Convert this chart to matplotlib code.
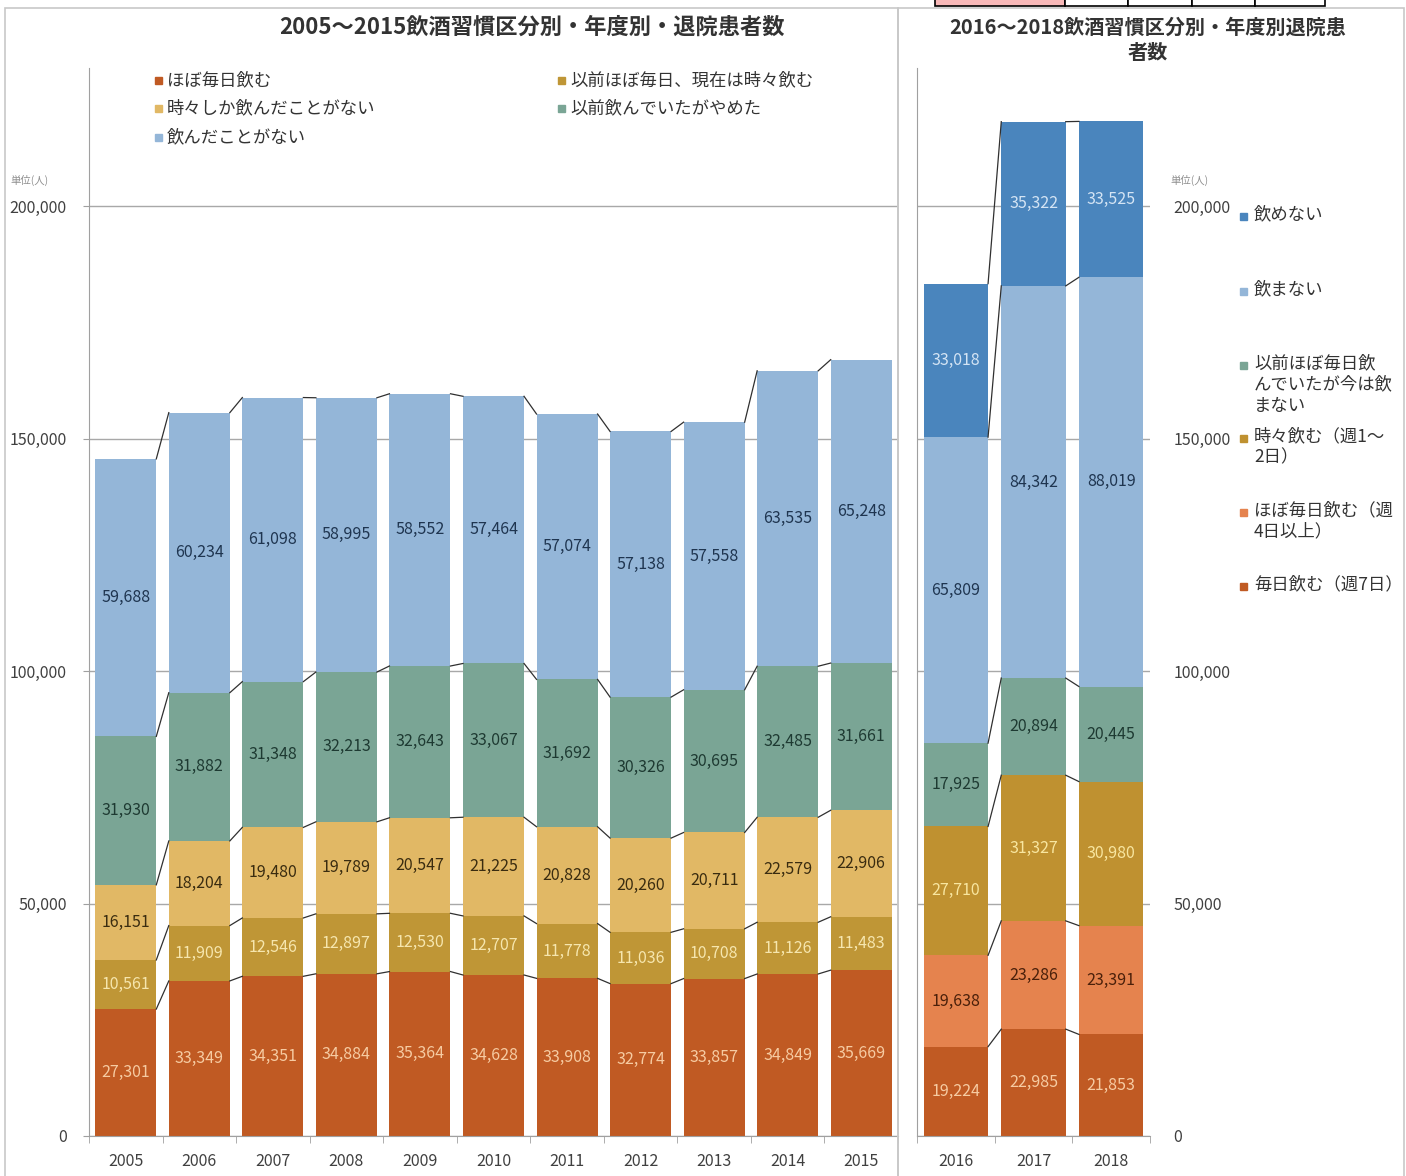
import numpy as np
import matplotlib.pyplot as plt
from matplotlib.patches import Rectangle

plt.rcParams['font.family'] = ['Noto Sans CJK JP', 'DejaVu Sans']

# 2005-2015
years_a = ['2005', '2006', '2007', '2008', '2009', '2010', '2011', '2012', '2013', '2014', '2015']
labels_a = ['ほぼ毎日飲む', '以前ほぼ毎日、現在は時々飲む', '時々しか飲んだことがない',
            '以前飲んでいたがやめた', '飲んだことがない']
everyday_a = [27301, 33349, 34351, 34884, 35364, 34628, 33908, 32774, 33857, 34849, 35669]
formerly_daily_a = [10561, 11909, 12546, 12897, 12530, 12707, 11778, 11036, 10708, 11126, 11483]
sometimes_a = [16151, 18204, 19480, 19789, 20547, 21225, 20828, 20260, 20711, 22579, 22906]
quit_a = [31930, 31882, 31348, 32213, 32643, 33067, 31692, 30326, 30695, 32485, 31661]
never_a = [59688, 60234, 61098, 58995, 58552, 57464, 57074, 57138, 57558, 63535, 65248]

# 2016-2018
years_b = ['2016', '2017', '2018']
labels_b = ['毎日飲む（週7日）', 'ほぼ毎日飲む（週\n4日以上）', '時々飲む（週1～\n2日）',
            '以前ほぼ毎日飲\nんでいたが今は飲\nまない', '飲まない', '飲めない']
daily7_b = [19224, 22985, 21853]
daily4_b = [19638, 23286, 23391]
weekly_b = [27710, 31327, 30980]
quit_b = [17925, 20894, 20445]
nodrink_b = [65809, 84342, 88019]
cannot_b = [33018, 35322, 33525]

colors_a = ['#C05A23', '#BF9636', '#E1B865', '#7AA595', '#94B6D8']
txt_a = ['#F6CBA2', '#F6E6AE', '#3A2C10', '#1E3A32', '#1F3550']
colors_b = ['#C05A23', '#E5834E', '#BF9130', '#7AA595', '#94B6D8', '#4A85BD']
txt_b = ['#F6CBA2', '#4A200A', '#F8E6A0', '#1E3A32', '#1F3550', '#D4E4F4']

W, H = 1406, 1176
fig = plt.figure(figsize=(W / 100, H / 100), dpi=100)


def fx(x):
    return x / W


def fy(y):
    return 1 - y / H


def stacked(ax, years, series, colors, tcolors, bw=0.83):
    x = np.arange(len(years))
    bottom = np.zeros(len(years))
    for vals, c, tc in zip(series, colors, tcolors):
        vals = np.array(vals)
        ax.bar(x, vals, bw, bottom=bottom, color=c, zorder=2)
        for xi, b, v in zip(x, bottom, vals):
            ax.text(xi, b + v / 2, f'{v:,}', ha='center', va='center',
                    fontsize=11.5, color=tc, zorder=4)
        bottom = bottom + vals
        # series lines between bars
        for i in range(len(years) - 1):
            ax.plot([x[i] + bw / 2, x[i + 1] - bw / 2], [bottom[i], bottom[i + 1]],
                    color='#303030', lw=0.9, zorder=3)
    ax.set_xticks(x)
    ax.set_xticklabels(years, fontsize=11.5, color='#404040')
    ax.set_xticks(np.arange(len(years) + 1) - 0.5, minor=True)
    ax.tick_params(axis='x', which='major', length=0, pad=12)
    ax.tick_params(axis='x', which='minor', length=5, color='#A0A0A0')
    ax.set_xlim(-0.5, len(years) - 0.5)
    ax.set_ylim(0, 229700)
    ax.set_yticks(range(0, 200001, 50000))
    ax.set_yticklabels([f'{v:,}' for v in range(0, 200001, 50000)], fontsize=11.5, color='#404040')
    ax.grid(axis='y', color='#A8A8A8', lw=1, zorder=0)
    for s in ['top', 'right']:
        ax.spines[s].set_visible(False)
    ax.spines['left'].set_color('#A0A0A0')
    ax.spines['bottom'].set_color('#A0A0A0')


# left chart
ax1 = fig.add_axes([fx(89), fy(1136), fx(898 - 89), (1136 - 68) / H])
stacked(ax1, years_a, [everyday_a, formerly_daily_a, sometimes_a, quit_a, never_a],
        colors_a, txt_a, bw=0.83)
ax1.tick_params(axis='y', length=4, color='#A0A0A0', pad=12)

# right chart
ax2 = fig.add_axes([fx(917), fy(1136), fx(1150 - 917), (1136 - 68) / H])
stacked(ax2, years_b, [daily7_b, daily4_b, weekly_b, quit_b, nodrink_b, cannot_b],
        colors_b, txt_b, bw=0.83)
ax2.yaxis.tick_right()
ax2.tick_params(axis='y', length=0, pad=17)
for t in ax2.get_yticklabels():
    t.set_ha('left')

# titles
fig.text(fx(532), fy(27), '2005～2015飲酒習慣区分別・年度別・退院患者数', ha='center', va='center',
         fontsize=16, fontweight='bold', color='#333333')
fig.text(fx(1148), fy(40), '2016～2018飲酒習慣区分別・年度別退院患\n者数', ha='center', va='center',
         fontsize=14.5, fontweight='bold', color='#333333', linespacing=1.25)

# unit labels
fig.text(fx(10), fy(180), '単位(人)', fontsize=7.5, color='#909090', va='center')
fig.text(fx(1170), fy(180), '単位(人)', fontsize=7.5, color='#909090', va='center')

# left legend (row-major like excel)
leg_pos = [(155, 80), (558, 80), (155, 108), (558, 108), (155, 137)]
for (lx, ly), lab, c in zip(leg_pos, labels_a, colors_a):
    fig.add_artist(Rectangle((fx(lx), fy(ly + 4)), 7 / W, 7 / H, transform=fig.transFigure,
                             color=c))
    fig.text(fx(lx + 12), fy(ly), lab, fontsize=12.5, va='center', color='#333333')

# right legend (top to bottom reversed order)
leg_y = [216, 291, 365, 438, 512, 586]
for ly, lab, c in zip(leg_y, labels_b[::-1], colors_b[::-1]):
    fig.add_artist(Rectangle((fx(1240), fy(ly + 4)), 7 / W, 7 / H, transform=fig.transFigure,
                             color=c))
    fig.text(fx(1254), fy(ly - 11), lab, fontsize=12.5, va='top', color='#333333',
             linespacing=1.25)

# panel frames
fig.add_artist(Rectangle((fx(5), fy(1180)), fx(898 - 5), (1180 - 8) / H, transform=fig.transFigure,
                         fill=False, edgecolor='#C8C8C8', lw=1.2))
fig.add_artist(Rectangle((fx(898), fy(1180)), fx(1404 - 898), (1180 - 8) / H,
                         transform=fig.transFigure, fill=False, edgecolor='#C8C8C8', lw=1.2))

# fragment of a table at the top edge
cells = [(935, 1065, '#F8B8B8'), (1065, 1128, 'white'), (1128, 1192, 'white'),
         (1192, 1255, 'white'), (1255, 1325, 'white')]
for x0, x1, c in cells:
    fig.add_artist(Rectangle((fx(x0), fy(6)), fx(x1 - x0), 8 / H, transform=fig.transFigure,
                             facecolor=c, edgecolor='black', lw=1.2))

fig.savefig('out.png', dpi=100)
